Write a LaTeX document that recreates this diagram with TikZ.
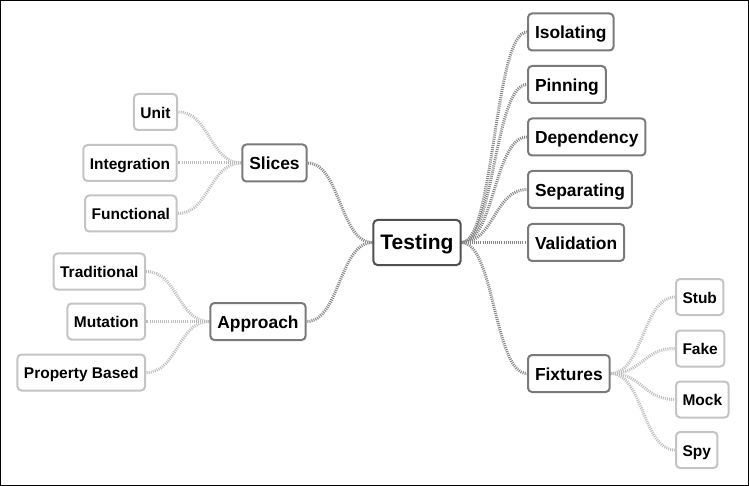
\documentclass[tikz,border=0pt]{standalone}
\usepackage{fontspec}
\setmainfont{Liberation Sans}
\usetikzlibrary{calc,backgrounds}
\definecolor{rootc}{HTML}{505050}
\definecolor{midc}{HTML}{7A7A7A}
\definecolor{leafc}{HTML}{C4C4C4}
\definecolor{linemid}{HTML}{858585}
\definecolor{lineleaf}{HTML}{BDBDBD}
\tikzset{
  box/.style={draw, fill=white, rounded corners=4pt, line width=2pt, inner xsep=7pt, inner ysep=0pt, text depth=0pt},
  rootbox/.style={box, draw=rootc, minimum height=45pt, text height=14pt, font=\fontsize{21}{24}\selectfont\bfseries},
  midbox/.style={box, draw=midc, minimum height=37pt, text height=14pt, font=\fontsize{17.4}{20}\selectfont\bfseries},
  leafbox/.style={box, draw=leafc, minimum height=36pt, text height=12.6pt, inner xsep=6.5pt, font=\fontsize{15.5}{18}\selectfont\bfseries},
  sbend/.style={to path={let \p1=(\tikztostart), \p2=(\tikztotarget) in
     .. controls ({0.5*\x1+0.5*\x2},\y1) and ({0.5*\x1+0.5*\x2},\y2) .. (\p2)}},
  link/.style={line width=3pt, dash pattern=on 1pt off 1.1pt, sbend},
  midlink/.style={link, draw=linemid},
  leaflink/.style={link, draw=lineleaf},
}
\begin{document}
\begin{tikzpicture}[x=1pt,y=-1pt]
\useasboundingbox (0,0) rectangle (749,486);
\draw[black, line width=1pt] (0.5,0.5) rectangle (748.5,485.5);

\node[rootbox] (T) at (417,242.5) {Testing};

\node[midbox, anchor=west] (iso) at (527,32) {Isolating};
\node[midbox, anchor=west] (pin) at (527,84.5) {Pinning};
\node[midbox, anchor=west] (dep) at (527,137) {Dependency};
\node[midbox, anchor=west] (sep) at (527,189.5) {Separating};
\node[midbox, anchor=west] (val) at (527,242.5) {Validation};
\node[midbox, anchor=west] (fix) at (527,373.5) {Fixtures};

\node[leafbox, anchor=west] (stub) at (675,297) {Stub};
\node[leafbox, anchor=west] (fake) at (675,348.5) {Fake};
\node[leafbox, anchor=west] (mock) at (675,399.5) {Mock};
\node[leafbox, anchor=west] (spy) at (675,450) {Spy};

\node[midbox] (sl) at (274.5,163) {Slices};
\node[midbox] (ap) at (258,321.5) {Approach};

\node[leafbox, anchor=east] (unit) at (178,112) {Unit};
\node[leafbox, anchor=east] (integ) at (177.5,163) {Integration};
\node[leafbox, anchor=east] (func) at (177.5,213.5) {Functional};
\node[leafbox, anchor=east] (trad) at (146,271.5) {Traditional};
\node[leafbox, anchor=east] (mut) at (146,321.5) {Mutation};
\node[leafbox, anchor=east] (prop) at (146,372.5) {Property Based};

\begin{pgfonlayer}{background}
\foreach \nm in {iso,pin,dep,sep,val,fix}
  \draw[midlink] (T.east) to (\nm.west);
\foreach \nm in {sl,ap}
  \draw[midlink] (T.west) to (\nm.east);
\foreach \nm in {stub,fake,mock,spy}
  \draw[leaflink] (fix.east) to (\nm.west);
\foreach \nm in {unit,integ,func}
  \draw[leaflink] (sl.west) to (\nm.east);
\foreach \nm in {trad,mut,prop}
  \draw[leaflink] (ap.west) to (\nm.east);
\end{pgfonlayer}
\end{tikzpicture}
\end{document}
